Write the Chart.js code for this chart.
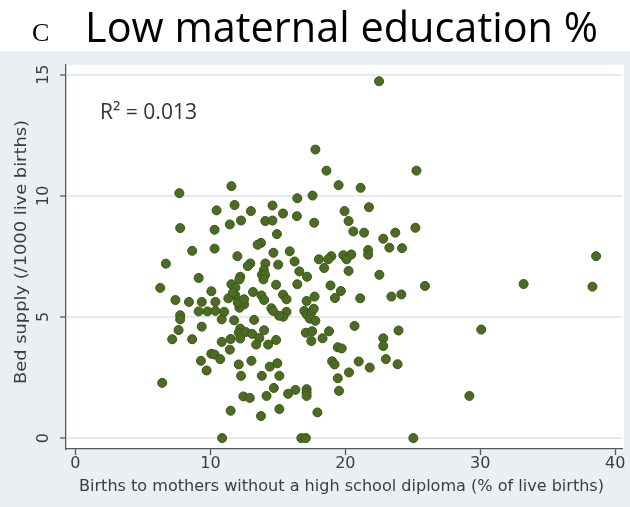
<!DOCTYPE html>
<html>
<head>
<meta charset="utf-8">
<script src="https://cdn.jsdelivr.net/npm/chart.js@4/dist/chart.umd.min.js"></script>
<style>
  html, body { margin: 0; padding: 0; background: #ffffff; }
  #wrap { width: 630px; height: 507px; }
</style>
</head>
<body>
<div id="wrap"><canvas id="c" width="630" height="507"></canvas></div>
<script>
// Births to mothers without a high school diploma (% of live births)
const eduPct = [
  22.5, 17.78, 18.6, 25.27, 11.56, 19.5, 21.13, 7.7, 17.57, 16.44,
  11.79, 14.6, 21.75, 10.46, 13.0, 19.94, 15.38, 16.41, 12.27, 14.07,
  14.6, 20.24, 17.69, 11.44, 7.76, 10.31, 25.19, 20.59, 21.39, 14.93,
  22.81, 23.7, 13.75, 13.5, 23.26, 24.2, 8.65, 10.31, 14.67, 15.88,
  21.69, 21.69, 12.0, 19.85, 20.44, 18.96, 20.09, 18.04, 18.73, 6.7,
  12.96, 12.77, 15.02, 16.24, 14.07, 18.43, 13.96, 20.24, 16.59, 22.52,
  9.13, 17.16, 12.21, 13.82, 14.05, 12.15, 11.56, 16.44, 14.87, 18.9,
  6.28, 25.9, 33.21, 38.31, 38.58, 10.07, 13.16, 19.67, 13.78, 11.85,
  15.38, 17.72, 19.23, 21.1, 23.41, 24.15, 7.41, 8.41, 9.36, 10.37,
  11.33, 12.5, 13.98, 15.64, 17.13, 12.15, 7.76, 7.76, 9.13, 9.78,
  10.37, 11.02, 14.52, 14.64, 15.64, 15.4, 16.96, 17.14, 17.48, 17.66,
  17.36, 17.78, 10.84, 11.76, 13.24, 9.36, 7.64, 12.21, 12.1, 12.62,
  13.1, 13.98, 17.07, 17.54, 18.79, 20.68, 23.94, 30.07, 7.17, 8.65,
  11.5, 12.21, 13.63, 14.87, 17.48, 18.31, 22.81, 10.84, 13.39, 14.28,
  22.81, 19.44, 19.73, 11.44, 10.07, 10.31, 10.73, 9.3, 13.04, 19.02,
  19.2, 23.0, 20.99, 12.1, 14.96, 14.4, 23.87, 21.81, 9.72, 20.27,
  12.27, 13.81, 15.11, 19.44, 6.43, 14.7, 16.3, 17.13, 19.53, 15.76,
  12.44, 12.92, 14.16, 17.13, 17.13, 29.19, 11.5, 15.11, 17.93, 13.75,
  10.87, 16.74, 17.07, 25.04, 11.85, 11.67, 12.03, 13.93, 12.5, 15.1
];

// Bed supply (/1000 live births), same order as eduPct
const bedSupply = [
  14.73, 11.91, 11.04, 11.04, 10.4, 10.44, 10.33, 10.11, 10.01, 9.9,
  9.62, 9.6, 9.53, 9.4, 9.37, 9.37, 9.27, 9.16, 8.98, 8.96,
  8.98, 8.96, 8.89, 8.82, 8.67, 8.6, 8.68, 8.53, 8.48, 8.42,
  8.23, 8.48, 8.06, 7.98, 7.86, 7.84, 7.73, 7.82, 7.65, 7.71,
  7.76, 7.57, 7.51, 7.55, 7.58, 7.51, 7.38, 7.38, 7.38, 7.2,
  7.21, 7.1, 7.16, 7.29, 7.21, 7.02, 6.94, 6.9, 6.88, 6.74,
  6.61, 6.66, 6.66, 6.74, 6.74, 6.55, 6.35, 6.35, 6.33, 6.3,
  6.2, 6.28, 6.36, 6.25, 7.51, 6.06, 6.03, 6.07, 5.89, 5.89,
  5.92, 5.84, 5.78, 5.77, 5.84, 5.93, 5.7, 5.62, 5.62, 5.62,
  5.77, 5.52, 5.7, 5.73, 5.66, 5.38, 5.07, 4.9, 5.23, 5.23,
  5.25, 5.21, 5.36, 5.25, 5.21, 5.01, 5.25, 5.1, 5.18, 5.34,
  4.93, 4.84, 4.9, 4.86, 4.88, 4.6, 4.46, 4.52, 4.35, 4.38,
  4.3, 4.45, 4.35, 4.41, 4.41, 4.63, 4.44, 4.48, 4.08, 4.08,
  4.09, 4.11, 4.13, 4.05, 4.01, 4.12, 4.12, 3.97, 3.86, 3.86,
  3.8, 3.75, 3.7, 3.65, 3.48, 3.45, 3.26, 3.19, 3.19, 3.17,
  3.04, 3.26, 3.16, 3.04, 3.09, 2.95, 3.05, 2.91, 2.79, 2.71,
  2.57, 2.57, 2.57, 2.47, 2.28, 2.07, 1.99, 2.02, 1.95, 1.83,
  1.72, 1.66, 1.74, 1.88, 1.74, 1.74, 1.13, 1.2, 1.06, 0.91,
  0, 0, 0, 0, 6.21, 6.0, 5.59, 6.55, 5.73, 5.05
];

const xTickValues = [0, 10, 20, 30, 40];
const yTickValues = [0, 5, 10, 15];

const panelLetter = 'C';
const panelTitle = 'Low maternal education %';
const xTitle = 'Births to mothers without a high school diploma (% of live births)';
const yTitle = 'Bed supply (/1000 live births)';
const fitNote = 'R\u00B2 = 0.013';

const points = eduPct.map((x, i) => ({ x: x, y: bedSupply[i] }));

const AXIS_COLOR = '#55595a';
const TEXT_COLOR = '#3a3e3f';
const LABEL_FONT = '"DejaVu Sans", Verdana, sans-serif';

// Draw text squeezed or stretched horizontally to a given width
function fitText(ctx, text, x, y, width) {
  const w = ctx.measureText(text).width;
  ctx.save();
  ctx.translate(x, y);
  ctx.scale(width / w, 1);
  ctx.fillText(text, 0, 0);
  ctx.restore();
}

// Backgrounds: white header band, light grey graph region, white plot region
const backdrop = {
  id: 'backdrop',
  beforeDraw(chart) {
    const { ctx, chartArea: a } = chart;
    ctx.save();
    ctx.fillStyle = '#ffffff';
    ctx.fillRect(0, 0, chart.width, chart.height);
    ctx.fillStyle = '#eaf0f1';
    ctx.fillRect(0, 51, chart.width, chart.height - 51);
    ctx.fillStyle = '#ffffff';
    ctx.fillRect(a.left, a.top, a.right - a.left + 2, a.bottom - a.top);
    ctx.restore();
  }
};

// Header text, axis labels and the fit annotation
const labels = {
  id: 'labels',
  afterDraw(chart) {
    const { ctx, chartArea: a } = chart;
    const xs = chart.scales.x, ys = chart.scales.y;
    ctx.save();

    // panel letter + title
    ctx.fillStyle = '#000000';
    ctx.textBaseline = 'alphabetic';
    ctx.textAlign = 'left';
    ctx.font = '26px "Liberation Serif", "DejaVu Serif", serif';
    ctx.fillText(panelLetter, 32, 41);
    ctx.font = '42px "Open Sans", "Noto Sans", sans-serif';
    fitText(ctx, panelTitle, 85, 42, 513);

    // x tick labels and title
    ctx.fillStyle = TEXT_COLOR;
    ctx.font = '16px ' + LABEL_FONT;
    ctx.textAlign = 'center';
    ctx.textBaseline = 'middle';
    xTickValues.forEach(v => {
      ctx.fillText(String(v), xs.getPixelForValue(v), 464);
    });
    ctx.textAlign = 'left';
    ctx.font = '16px ' + LABEL_FONT;
    fitText(ctx, xTitle, 79, 487, 525);

    // y tick labels (rotated) and title
    ctx.textAlign = 'center';
    yTickValues.forEach(v => {
      ctx.save();
      ctx.translate(44, ys.getPixelForValue(v));
      ctx.rotate(-Math.PI / 2);
      ctx.font = '16px ' + LABEL_FONT;
      ctx.fillText(String(v), 0, 0);
      ctx.restore();
    });
    ctx.save();
    ctx.translate(22, 384);
    ctx.rotate(-Math.PI / 2);
    ctx.textAlign = 'left';
    ctx.font = '16px ' + LABEL_FONT;
    fitText(ctx, yTitle, 0, 0, 264);
    ctx.restore();

    // fit annotation
    ctx.fillStyle = '#333333';
    ctx.textAlign = 'left';
    ctx.font = '21px "Open Sans", "Noto Sans", sans-serif';
    fitText(ctx, fitNote, 100, 113, 97);

    ctx.restore();
  }
};

new Chart(document.getElementById('c'), {
  type: 'scatter',
  data: {
    datasets: [{
      data: points,
      pointRadius: 4.5,
      pointHoverRadius: 4.5,
      pointBackgroundColor: '#4b6c21',
      pointBorderColor: '#3c561a',
      pointBorderWidth: 1
    }]
  },
  options: {
    responsive: false,
    devicePixelRatio: 1,
    animation: false,
    layout: { padding: { left: 0, right: 8, top: 65, bottom: 0 } },
    plugins: { legend: { display: false }, tooltip: { enabled: false } },
    scales: {
      x: {
        type: 'linear',
        min: -0.7,
        max: 40.5,
        afterBuildTicks: s => { s.ticks = xTickValues.map(v => ({ value: v })); },
        afterFit: s => { s.height = 58; },
        ticks: { display: false },
        border: { display: true, color: AXIS_COLOR, width: 1.3 },
        grid: { drawOnChartArea: false, drawTicks: true, tickLength: 6, tickColor: AXIS_COLOR, tickWidth: 1.3 }
      },
      y: {
        type: 'linear',
        min: -0.45,
        max: 15.4,
        afterBuildTicks: s => { s.ticks = yTickValues.map(v => ({ value: v })); },
        afterFit: s => { s.width = 66; },
        ticks: { display: false },
        border: { display: true, color: AXIS_COLOR, width: 1.3 },
        grid: { color: '#e4ebed', lineWidth: 2, drawTicks: true, tickLength: 6, tickColor: AXIS_COLOR, tickWidth: 1.3 }
      }
    }
  },
  plugins: [backdrop, labels]
});
</script>
</body>
</html>
